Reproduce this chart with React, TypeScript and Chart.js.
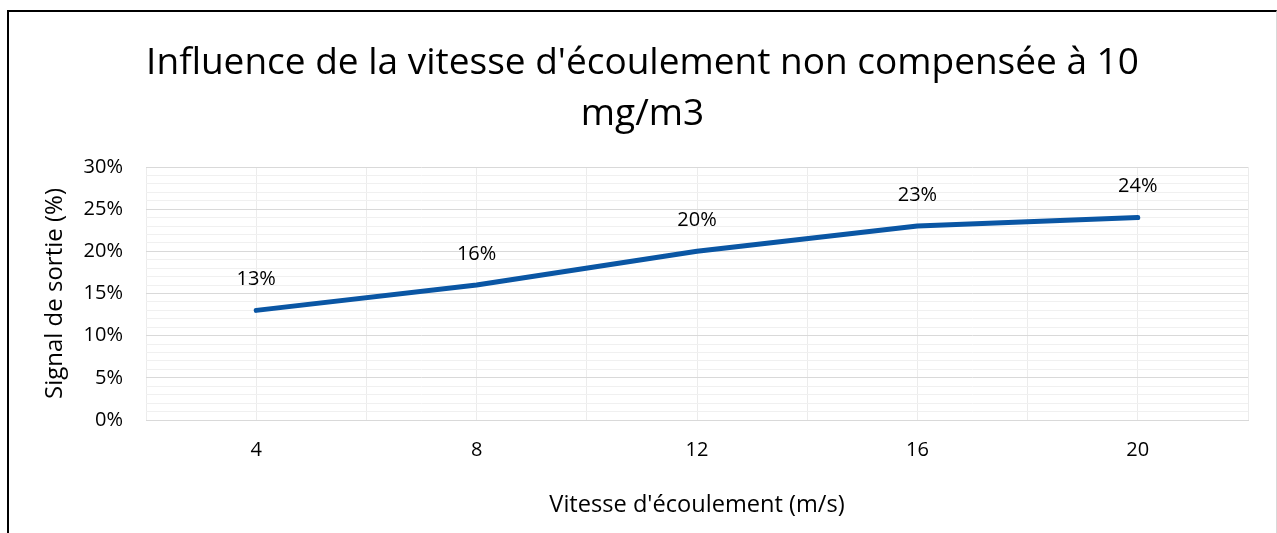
import React, { useEffect, useRef } from "react";
import { Chart, registerables } from "chart.js";

Chart.register(...registerables);

const titleLines = ["Influence de la vitesse d'écoulement non compensée à 10", "mg/m3"];
const xAxisTitle = "Vitesse d'écoulement (m/s)";
const yAxisTitle = "Signal de sortie (%)";
const speeds = [4, 8, 12, 16, 20];
const signalPct = [13, 16, 20, 23, 24];
const xMin = 2;
const xMax = 22;
const yMin = 0;
const yMax = 30;

const FONT = "'Open Sans'";

const dataLabelPlugin = {
  id: "dataLabels",
  afterDatasetsDraw(chart: any) {
    const ctx = chart.ctx;
    const meta = chart.getDatasetMeta(0);
    ctx.save();
    ctx.font = `20px ${FONT}`;
    ctx.fillStyle = "#000";
    ctx.textAlign = "center";
    ctx.textBaseline = "middle";
    meta.data.forEach((pt: any, i: number) => {
      ctx.fillText(signalPct[i] + "%", pt.x, pt.y - 31);
    });
    ctx.restore();
  },
};

export default function App() {
  const ref = useRef<HTMLCanvasElement | null>(null);
  useEffect(() => {
    if (!ref.current) return;
    const chart = new Chart(ref.current, {
      type: "line",
      data: {
        datasets: [
          {
            data: speeds.map((s, i) => ({ x: s, y: signalPct[i] })),
            borderColor: "#0a56a4",
            backgroundColor: "#0a56a4",
            borderWidth: 5,
            borderCapStyle: "round",
            borderJoinStyle: "round",
            pointRadius: 0,
            tension: 0,
          },
        ],
      },
      options: {
        responsive: false,
        animation: false,
        layout: { padding: { left: 0, right: 0, top: 0, bottom: 0 } },
        plugins: {
          legend: { display: false },
          tooltip: { enabled: false },
          title: {
            display: true,
            text: titleLines,
            color: "#000",
            font: { family: FONT, size: 37, weight: "normal", lineHeight: "51px" },
            padding: { top: 26, bottom: 27 },
          },
        },
        scales: {
          x: {
            type: "linear",
            min: xMin,
            max: xMax,
            afterFit: (s: any) => {
              s.height = 113;
            },
            ticks: {
              stepSize: 2,
              autoSkip: false,
              maxRotation: 0,
              padding: 18,
              color: "#000",
              font: { family: FONT, size: 20 },
              callback: (v: any) => (speeds.includes(Number(v)) ? String(v) : ""),
            },
            grid: { color: "#ececec", lineWidth: 1, drawTicks: false },
            border: { display: true, color: "#d9d9d9" },
            title: {
              display: true,
              text: xAxisTitle,
              color: "#000",
              font: { family: FONT, size: 23.6 },
              padding: { top: 0, bottom: 13.8 },
            },
          },
          y: {
            min: yMin,
            max: yMax,
            afterFit: (s: any) => {
              s.width = 137;
            },
            ticks: {
              stepSize: 1,
              autoSkip: false,
              padding: 23,
              color: "#000",
              font: { family: FONT, size: 20 },
              callback: (v: any) => (Number(v) % 5 === 0 ? v + "%" : ""),
            },
            grid: {
              color: (c: any) => (c.tick && c.tick.value % 5 === 0 ? "#d9d9d9" : "#f0f0f0"),
              lineWidth: 1,
              drawTicks: false,
            },
            border: { display: false },
            title: {
              display: true,
              text: yAxisTitle,
              color: "#000",
              font: { family: FONT, size: 24 },
              padding: { top: 31.6, bottom: 0 },
            },
          },
          yRight: {
            axis: "y",
            position: "right",
            min: yMin,
            max: yMax,
            afterFit: (s: any) => {
              s.width = 28;
            },
            ticks: { display: false },
            grid: { display: false, drawOnChartArea: false },
            border: { display: false },
          },
        },
      },
      plugins: [dataLabelPlugin],
    } as any);
    return () => chart.destroy();
  }, []);

  return (
    <div
      style={{
        position: "absolute",
        left: 7,
        top: 10,
        width: 1270,
        height: 523,
        boxSizing: "border-box",
        borderTop: "2px solid #000",
        borderLeft: "2px solid #000",
        borderRight: "1px solid #d9d9d9",
        background: "#fff",
        overflow: "hidden",
      }}
    >
      <canvas ref={ref} width={1267} height={521} style={{ display: "block" }} />
    </div>
  );
}
